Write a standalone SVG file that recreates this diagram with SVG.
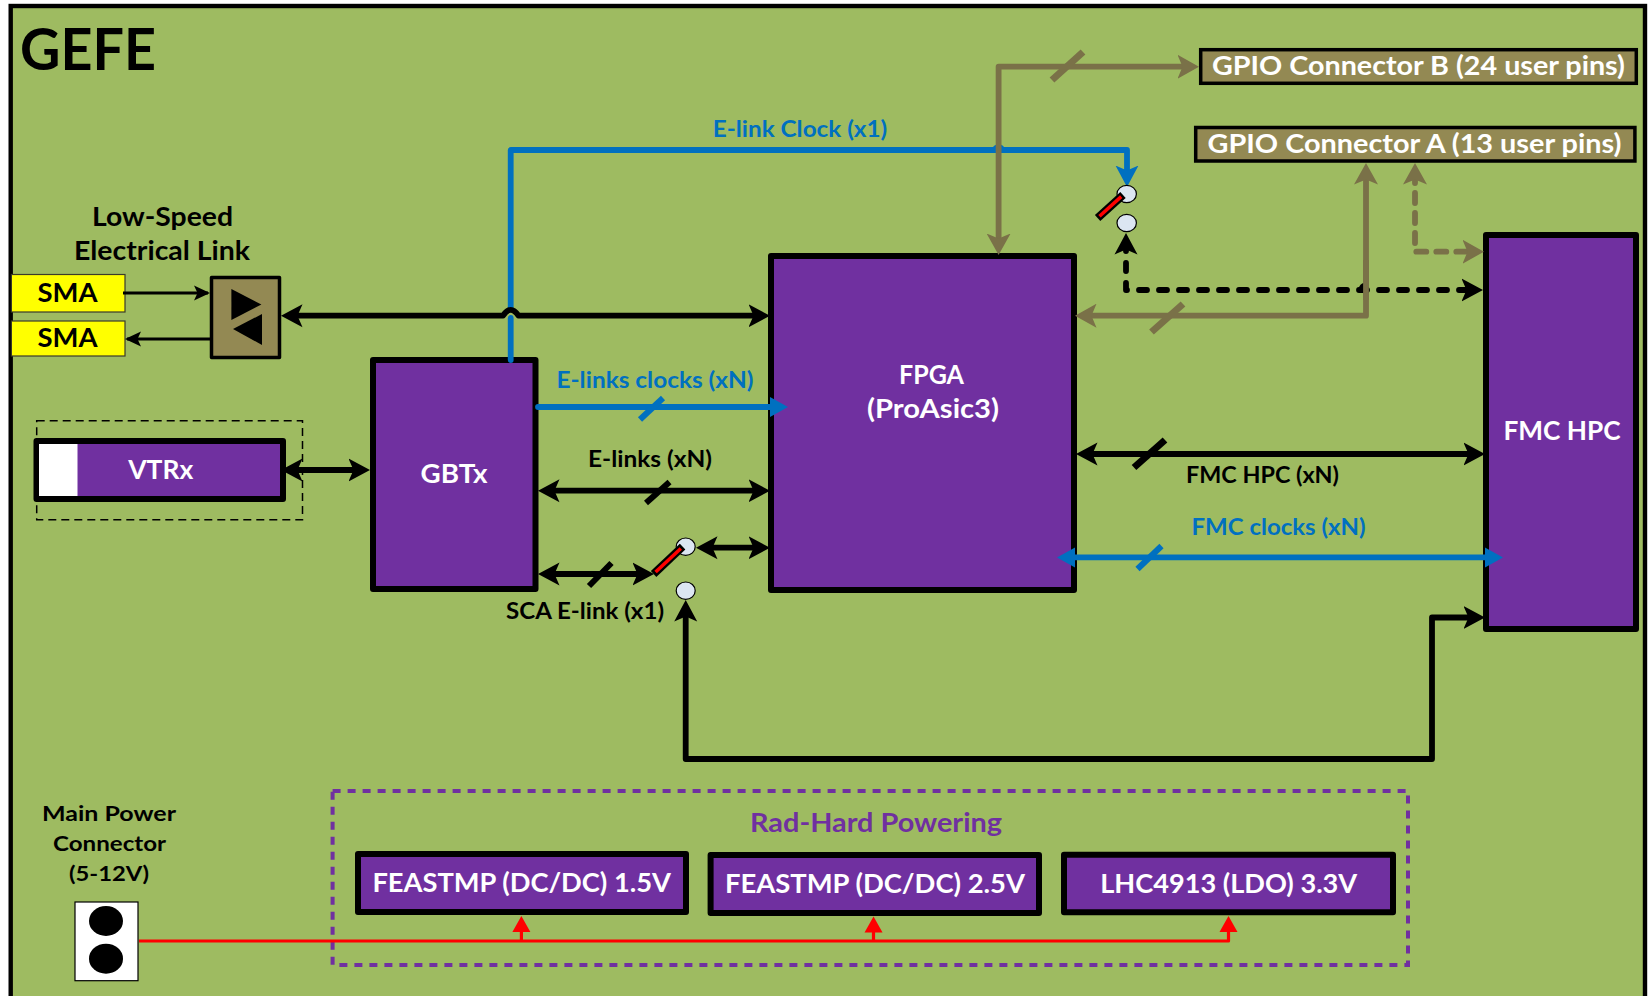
<svg xmlns="http://www.w3.org/2000/svg" width="1648" height="996" viewBox="0 0 1648 996">
<style>
text{font-family:"Lato","Carlito","Liberation Sans",sans-serif;font-weight:700;text-anchor:middle;fill:#000}
.w{fill:#fff}.bl{fill:#0070c0}.pt{fill:#7030a0}
.box{fill:#7030a0;stroke:#000;stroke-width:6;stroke-linejoin:round}
.gp{fill:#938953;stroke:#000;stroke-width:3.5}
.k{fill:none;stroke:#000;stroke-width:5.8;stroke-linejoin:round}
.kt{fill:none;stroke:#000;stroke-width:3}
.b{fill:none;stroke:#0070c0;stroke-width:5.8;stroke-linejoin:round}
.o{fill:none;stroke:#7a7148;stroke-width:5.8;stroke-linejoin:round}
.r{fill:none;stroke:#f00;stroke-width:3.2;stroke-linejoin:round}
.sl{stroke-width:7;fill:none;stroke:#000}
.f16{font-size:21px}.f20{font-size:23px}.f24{font-size:26px}
.pad{fill:#dce6f2;stroke:#000;stroke-width:1.2}
</style>
<defs>
<marker id="mk" viewBox="0 0 22 24" markerWidth="22" markerHeight="24" refX="11.5" refY="12" orient="auto-start-reverse" markerUnits="userSpaceOnUse"><path d="M0,0.5L21.5,12L0,23.5L5,12Z" fill="#000"/></marker>
<marker id="mo" viewBox="0 0 24 24" markerWidth="24" markerHeight="24" refX="11.5" refY="12" orient="auto-start-reverse" markerUnits="userSpaceOnUse"><path d="M0,0L21.5,12L0,24L5,12Z" fill="#7a7148"/></marker>
<marker id="mb" viewBox="0 0 24 24" markerWidth="24" markerHeight="24" refX="11.5" refY="12" orient="auto-start-reverse" markerUnits="userSpaceOnUse"><path d="M0,0.5L21.5,12L0,23.5L5,12Z" fill="#0070c0"/></marker>
<marker id="mbt" viewBox="0 0 20 22" markerWidth="20" markerHeight="22" refX="8" refY="11" orient="auto-start-reverse" markerUnits="userSpaceOnUse"><path d="M0,1L18,11L0,21Z" fill="#0070c0"/></marker>
<marker id="mt" viewBox="0 0 18 16" markerWidth="18" markerHeight="16" refX="14" refY="8" orient="auto-start-reverse" markerUnits="userSpaceOnUse"><path d="M0,0.5L16,8L0,15.5L3.5,8Z" fill="#000"/></marker>
<marker id="mr" viewBox="0 0 18 20" markerWidth="18" markerHeight="20" refX="11" refY="10" orient="auto" markerUnits="userSpaceOnUse"><path d="M0,1L16,10L0,19Z" fill="#f00"/></marker>
</defs>
<rect x="10.7" y="6" width="1634.3" height="1010" fill="#9ebb61" stroke="#000" stroke-width="4.4"/>
<text id="title" x="88" y="70" font-size="58" textLength="136" lengthAdjust="spacingAndGlyphs">GEFE</text>

<g id="low-speed-label"><text class="f24" x="162.5" y="226" textLength="141" lengthAdjust="spacingAndGlyphs">Low-Speed</text><text class="f24" x="162" y="260" textLength="176" lengthAdjust="spacingAndGlyphs">Electrical Link</text></g>
<g id="sma1"><rect x="11.4" y="274.5" width="113.6" height="37.5" fill="#ff0" stroke="#3a3a2a" stroke-width="1.2"/><text class="f24" x="67.5" y="302" textLength="60" lengthAdjust="spacingAndGlyphs">SMA</text></g>
<g id="sma2"><rect x="11.4" y="321" width="113.6" height="35" fill="#ff0" stroke="#3a3a2a" stroke-width="1.2"/><text class="f24" x="67.5" y="347" textLength="60" lengthAdjust="spacingAndGlyphs">SMA</text></g>
<g id="buffer"><rect x="211.5" y="277.5" width="68" height="80" fill="#938953" stroke="#000" stroke-width="3.5" stroke-linejoin="round"/><path d="M231.4,289L261.4,304.5L231.4,320Z"/><path d="M262,314L233,329L262,345Z"/></g>
<g id="vtrx"><rect x="36.5" y="441" width="246.5" height="58" class="box"/><rect x="39" y="444" width="38.5" height="52" fill="#fff"/><text class="f24" x="160.7" y="479" textLength="65" lengthAdjust="spacingAndGlyphs" style="fill:#fff">VTRx</text></g>
<rect id="vtrx-frame" x="36.7" y="420.7" width="265.8" height="99" fill="none" stroke="#000" stroke-width="1.5" stroke-dasharray="8 5"/>
<g id="gbtx"><rect x="373" y="360" width="162.5" height="229" class="box"/><text class="f24" x="454" y="482.5" textLength="67" lengthAdjust="spacingAndGlyphs" style="fill:#fff">GBTx</text></g>
<g id="fpga"><rect x="771" y="256" width="303" height="334" class="box"/><text class="f24" x="931.5" y="384" textLength="65" lengthAdjust="spacingAndGlyphs" style="fill:#fff">FPGA</text><text class="f24" x="933" y="418" textLength="132" lengthAdjust="spacingAndGlyphs" style="fill:#fff">(ProAsic3)</text></g>
<g id="fmc"><rect x="1486" y="235" width="150" height="394" class="box"/><text class="f24" x="1562" y="440" textLength="117" lengthAdjust="spacingAndGlyphs" style="fill:#fff">FMC HPC</text></g>
<g id="gpio-b"><rect x="1200.7" y="49.7" width="435.6" height="33.6" class="gp"/><text x="1418.5" y="75" font-size="27" textLength="413" lengthAdjust="spacingAndGlyphs" style="fill:#fff">GPIO Connector B (24 user pins)</text></g>
<g id="gpio-a"><rect x="1195.7" y="127.5" width="439.2" height="33.5" class="gp"/><text x="1414.5" y="153" font-size="27" textLength="414" lengthAdjust="spacingAndGlyphs" style="fill:#fff">GPIO Connector A (13 user pins)</text></g>
<g id="power-connector"><rect x="75" y="902" width="63" height="78.7" fill="#fff" stroke="#000" stroke-width="1.2"/><ellipse cx="106" cy="921" rx="17" ry="15"/><ellipse cx="106" cy="958.7" rx="17" ry="15"/><text class="f16" x="109" y="820.7" textLength="134" lengthAdjust="spacingAndGlyphs">Main Power</text><text class="f16" x="109.5" y="850.7" textLength="113" lengthAdjust="spacingAndGlyphs">Connector</text><text class="f16" x="109" y="880.7" textLength="80" lengthAdjust="spacingAndGlyphs">(5-12V)</text></g>
<g id="rad-hard"><rect x="332.6" y="791" width="1075.4" height="174" fill="none" stroke="#7030a0" stroke-width="4" stroke-dasharray="8 7"/><text class="f24 pt" x="876" y="832" textLength="252" lengthAdjust="spacingAndGlyphs">Rad-Hard Powering</text></g>
<g id="feast15"><rect x="358" y="854" width="328" height="58" class="box"/><text class="f24" x="521.7" y="892" textLength="298.5" lengthAdjust="spacingAndGlyphs" style="fill:#fff">FEASTMP (DC/DC) 1.5V</text></g>
<g id="feast25"><rect x="710.6" y="855" width="328.4" height="58" class="box"/><text class="f24" x="875" y="893" textLength="300" lengthAdjust="spacingAndGlyphs" style="fill:#fff">FEASTMP (DC/DC) 2.5V</text></g>
<g id="lhc4913"><rect x="1064" y="854.7" width="329" height="57.5" class="box"/><text class="f24" x="1228.7" y="892.5" textLength="257" lengthAdjust="spacingAndGlyphs" style="fill:#fff">LHC4913 (LDO) 3.3V</text></g>

<g id="connectors">
<path class="kt" d="M123,293H208" marker-end="url(#mt)"/>
<path class="kt" d="M210,339H127" marker-end="url(#mt)"/>
<path class="k" d="M291,470H360" marker-start="url(#mk)" marker-end="url(#mk)"/>
<path class="b" stroke-linecap="round" d="M510.7,307V150H1127V177" marker-end="url(#mb)"/>
<path class="k" d="M291,315.7H503Q510.7,304 518.5,315.7H760" marker-start="url(#mk)" marker-end="url(#mk)"/>
<path class="b" stroke-linecap="round" d="M510.7,318V360"/>
<path d="M990.5,150Q998.6,138 1006.5,150Z" fill="#0070c0"/>
<path class="o" d="M998.6,245V66.7H1189" marker-start="url(#mo)" marker-end="url(#mo)"/>
<path class="o" d="M1085,315.7H1366V173" marker-start="url(#mo)" marker-end="url(#mo)"/>
<path class="o" d="M1415,173V251.7H1474" stroke-dasharray="10 10" stroke-linecap="round" marker-start="url(#mo)" marker-end="url(#mo)"/>
<path class="k" d="M1126,243V290H1473" stroke-dasharray="8 12" stroke-linecap="round" marker-start="url(#mk)" marker-end="url(#mk)"/>
<path d="M1358,290Q1360,283 1364,283V290Z"/>
<path class="o" d="M1366,300V260"/>
<path class="b" stroke-linecap="round" d="M538,407H778" marker-end="url(#mbt)"/>
<path class="k" d="M548,490.7H760" marker-start="url(#mk)" marker-end="url(#mk)"/>
<path class="k" d="M548,574H644" marker-start="url(#mk)" marker-end="url(#mk)"/>
<path class="k" d="M706,547.7H760" marker-start="url(#mk)" marker-end="url(#mk)"/>
<path class="k" d="M1086,454H1475" marker-start="url(#mk)" marker-end="url(#mk)"/>
<path class="b" d="M1067,557.4H1493" marker-start="url(#mbt)" marker-end="url(#mbt)"/>
<path class="k" d="M685.7,610V759H1432V617.5H1475" marker-start="url(#mk)" marker-end="url(#mk)"/>
<path class="r" d="M139,941H1228.5V921" marker-end="url(#mr)"/>
<path class="r" d="M521.4,941V921" marker-end="url(#mr)"/>
<path class="r" d="M873.5,941V921.5" marker-end="url(#mr)"/>
<path class="sl" style="stroke:#7a7148" d="M1052,80L1083,52"/>
<path class="sl" style="stroke:#7a7148" d="M1151.5,332L1183,304"/>
<path class="sl" d="M1134,467.5L1165,440"/>
<path class="sl" style="stroke:#0070c0;stroke-width:6" d="M1137.5,569L1161.5,546"/>
<path class="sl" style="stroke:#0070c0;stroke-width:6" d="M640,419.5L663,398"/>
<path class="sl" style="stroke-width:6" d="M646,503L669.5,482"/>
<path class="sl" style="stroke-width:6" d="M589,586L611.5,563"/>
</g>
<g id="switch-top"><ellipse class="pad" cx="1126.7" cy="194" rx="9.7" ry="8.7"/><ellipse class="pad" cx="1126.7" cy="223" rx="9.7" ry="8.7"/><path d="M1097.6,218L1123,195" stroke="#000" stroke-width="8"/><path d="M1099.5,216.2L1121.2,196.6" stroke="#f00" stroke-width="3.5"/></g>
<g id="switch-bottom"><ellipse class="pad" cx="685.7" cy="546.7" rx="9.5" ry="8.7"/><ellipse class="pad" cx="685.7" cy="590.7" rx="9.5" ry="8.7"/><path d="M653.6,574L682.6,546.7" stroke="#000" stroke-width="8"/><path d="M655.6,572.1L680.8,548.4" stroke="#f00" stroke-width="3.5"/></g>
<g id="labels">
<text class="f20 bl" x="800" y="137" textLength="174.5" lengthAdjust="spacingAndGlyphs">E-link Clock (x1)</text>
<text class="f20 bl" x="655" y="388" textLength="197" lengthAdjust="spacingAndGlyphs">E-links clocks (xN)</text>
<text class="f20" x="650" y="467" textLength="124" lengthAdjust="spacingAndGlyphs">E-links (xN)</text>
<text class="f20" x="585" y="618.7" textLength="158" lengthAdjust="spacingAndGlyphs">SCA E-link (x1)</text>
<text class="f20" x="1262.5" y="483" textLength="153" lengthAdjust="spacingAndGlyphs">FMC HPC (xN)</text>
<text class="f20 bl" x="1278.5" y="535" textLength="174" lengthAdjust="spacingAndGlyphs">FMC clocks (xN)</text>
</g>
</svg>
